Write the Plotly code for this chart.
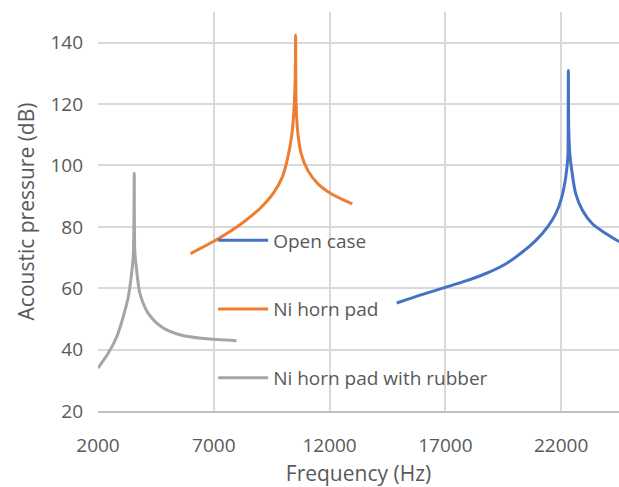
import plotly.graph_objects as go

# Data
open_freq = [14900, 16020, 16960, 17890, 18750, 19620, 20330, 20910, 21410, 21770, 22030, 22200, 22290, 22305, 22314, 22330, 22380, 22460, 22630, 22920, 23350, 23930, 24460, 25500, 26500]
open_db = [55.2, 58.0, 60.2, 62.4, 64.8, 68.0, 71.8, 75.6, 79.9, 84.3, 89.7, 96.2, 102.7, 115.0, 130.9, 112.0, 103.5, 98.4, 90.8, 85.4, 81.0, 77.8, 75.4, 72.0, 70.0]

ni_freq = [6000, 7190, 8190, 8980, 9560, 9960, 10200, 10375, 10460, 10515, 10534, 10555, 10634, 10776, 11060, 11500, 12070, 12980]
ni_db = [71.3, 76.1, 81.0, 85.9, 90.8, 96.2, 102.7, 110.3, 117.9, 128.0, 142.5, 120.0, 110.3, 103.8, 98.4, 94.0, 90.8, 87.5]

rub_freq = [2000, 2440, 2810, 3090, 3310, 3450, 3520, 3550, 3566, 3590, 3668, 3810, 4170, 4750, 5610, 6610, 7980]
rub_db = [34.0, 38.8, 44.2, 50.7, 57.2, 64.8, 70.2, 80.0, 97.5, 72.0, 65.9, 58.3, 51.8, 47.4, 44.7, 43.6, 42.9]

x_ticks = [2000, 7000, 12000, 17000, 22000]
y_ticks = [20, 40, 60, 80, 100, 120, 140]

TXT = "#595959"
FONT = "Open Sans"
LINE = dict(width=3, shape="spline", smoothing=0.8)

fig = go.Figure()
fig.add_trace(go.Scatter(x=open_freq, y=open_db, mode="lines", name="Open case",
                         line=dict(color="#4472C4", **LINE), legendgroup="a"))
fig.add_trace(go.Scatter(x=ni_freq, y=ni_db, mode="lines", name="Ni horn pad",
                         line=dict(color="#ED7D31", **LINE), legendgroup="b"))
fig.add_trace(go.Scatter(x=rub_freq, y=rub_db, mode="lines", name="Ni horn pad with rubber",
                         line=dict(color="#A5A5A5", **LINE), legendgroup="c"))

fig.update_layout(
    width=619, height=487,
    margin=dict(l=98, r=0, t=12, b=76),
    paper_bgcolor="white", plot_bgcolor="white",
    font=dict(family=FONT, color=TXT, size=19),
    legend=dict(x=0.221, y=0.475, xanchor="left", yanchor="top",
                bgcolor="rgba(0,0,0,0)", font=dict(size=19, color=TXT),
                tracegroupgap=41, itemwidth=50),
    xaxis=dict(range=[2000, 24500], tickvals=x_ticks, ticktext=[str(v) for v in x_ticks],
               showgrid=True, gridcolor="#D9D9D9", gridwidth=1.5,
               zeroline=False, showline=True, linecolor="#BFBFBF", linewidth=1.5,
               ticks="", ticklabelstandoff=16,
               title=dict(text="Frequency (Hz)", font=dict(size=21, color=TXT), standoff=16),
               tickfont=dict(size=19, color=TXT)),
    yaxis=dict(range=[20, 150], tickvals=y_ticks, ticktext=[str(v) for v in y_ticks],
               showgrid=True, gridcolor="#D9D9D9", gridwidth=1.5,
               zeroline=False, showline=False,
               ticks="", ticklabelstandoff=14,
               title=dict(text="Acoustic pressure (dB)", font=dict(size=21, color=TXT), standoff=10),
               tickfont=dict(size=19, color=TXT)),
)

fig.write_html("out.html")
